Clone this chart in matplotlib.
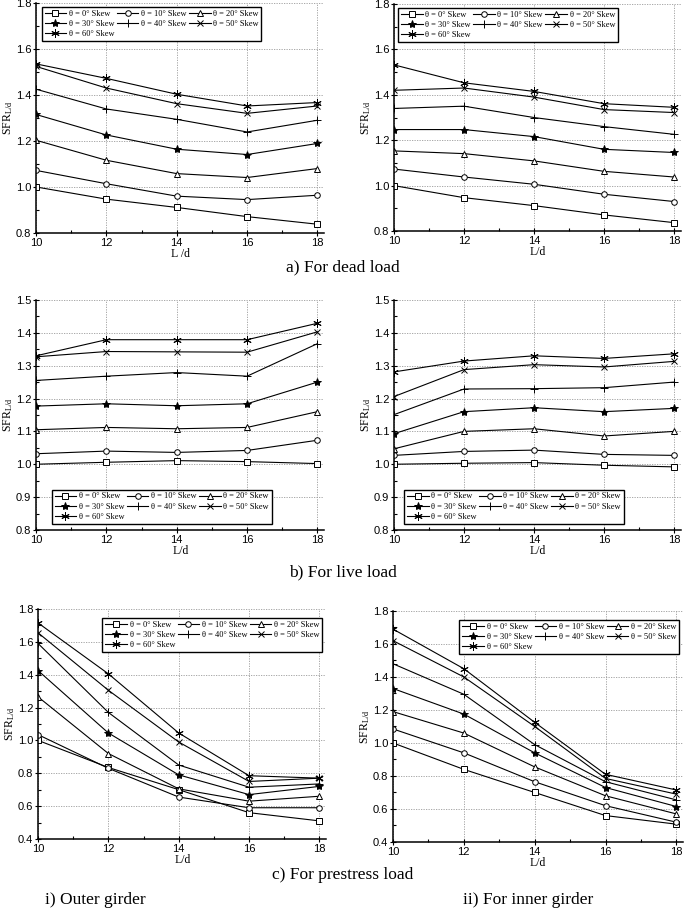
import matplotlib
matplotlib.use('Agg')
import matplotlib.pyplot as plt
from matplotlib.ticker import MultipleLocator, AutoMinorLocator

plt.rcParams['font.family'] = ['Liberation Sans', 'DejaVu Sans']
plt.rcParams['mathtext.fontset'] = 'custom'
plt.rcParams['mathtext.rm'] = 'Liberation Serif'
plt.rcParams['mathtext.it'] = 'Liberation Serif:italic'

Ld = [10, 12, 14, 16, 18]
etiquetas = ['θ = 0° Skew', 'θ = 10° Skew', 'θ = 20° Skew', 'θ = 30° Skew',
             'θ = 40° Skew', 'θ = 50° Skew', 'θ = 60° Skew']

# SFR por angulo de esviaje (0,10,...,60) para cada L/d
muerta_ext = [[1.000, 0.947, 0.911, 0.871, 0.838],
              [1.072, 1.014, 0.960, 0.945, 0.964],
              [1.203, 1.116, 1.058, 1.041, 1.080],
              [1.315, 1.226, 1.164, 1.141, 1.189],
              [1.425, 1.339, 1.294, 1.239, 1.290],
              [1.524, 1.430, 1.362, 1.320, 1.352],
              [1.535, 1.472, 1.403, 1.352, 1.367]]

muerta_int = [[1.000, 0.947, 0.912, 0.871, 0.837],
              [1.073, 1.038, 1.006, 0.962, 0.930],
              [1.153, 1.141, 1.109, 1.063, 1.038],
              [1.247, 1.247, 1.216, 1.160, 1.146],
              [1.340, 1.350, 1.300, 1.260, 1.226],
              [1.420, 1.430, 1.390, 1.335, 1.322],
              [1.532, 1.453, 1.415, 1.361, 1.345]]

viva_ext = [[1.000, 1.006, 1.011, 1.008, 1.002],
            [1.032, 1.040, 1.036, 1.042, 1.073],
            [1.105, 1.112, 1.108, 1.112, 1.160],
            [1.177, 1.184, 1.178, 1.184, 1.250],
            [1.255, 1.268, 1.279, 1.268, 1.367],
            [1.327, 1.343, 1.342, 1.341, 1.403],
            [1.330, 1.379, 1.379, 1.379, 1.429]]

viva_int = [[1.000, 1.003, 1.005, 0.997, 0.992],
            [1.027, 1.039, 1.043, 1.030, 1.027],
            [1.047, 1.100, 1.108, 1.086, 1.100],
            [1.093, 1.160, 1.172, 1.160, 1.170],
            [1.151, 1.229, 1.230, 1.233, 1.250],
            [1.206, 1.288, 1.303, 1.296, 1.313],
            [1.281, 1.314, 1.330, 1.322, 1.336]]

pre_ext = [[1.000, 0.835, 0.700, 0.560, 0.510],
           [1.035, 0.830, 0.655, 0.590, 0.590],
           [1.265, 0.920, 0.705, 0.630, 0.660],
           [1.425, 1.045, 0.790, 0.670, 0.720],
           [1.590, 1.170, 0.850, 0.715, 0.735],
           [1.655, 1.305, 0.990, 0.750, 0.770],
           [1.715, 1.405, 1.045, 0.785, 0.770]]

pre_int = [[1.000, 0.840, 0.700, 0.560, 0.508],
           [1.085, 0.940, 0.765, 0.620, 0.520],
           [1.190, 1.060, 0.855, 0.680, 0.570],
           [1.330, 1.175, 0.940, 0.730, 0.615],
           [1.480, 1.295, 0.990, 0.765, 0.655],
           [1.620, 1.400, 1.100, 0.785, 0.690],
           [1.690, 1.450, 1.125, 0.810, 0.715]]

marcadores = ['s', 'o', '^', '*', '+', 'x', (6, 2, 0)]
tamanos = [4, 4, 4.5, 6, 6, 5, 6]
abiertos = [True, True, True, False, False, False, False]
# orden para que la leyenda se llene por filas (3 columnas)
orden_leyenda = [0, 3, 6, 1, 4, 2, 5]


def panel(pos, datos, ylim, ypaso, xlabel, leg_loc, leg_bbox):
    ax = fig.add_axes(pos)
    lineas = []
    for k in range(7):
        fc = 'white' if abiertos[k] else 'black'
        l, = ax.plot(Ld, datos[k], color='black', lw=0.8, marker=marcadores[k],
                     ms=tamanos[k], mfc=fc, mec='black', mew=0.7, label=etiquetas[k])
        lineas.append(l)
    ax.set_xlim(10, 18.2)
    ax.set_ylim(ylim)
    ax.xaxis.set_major_locator(MultipleLocator(2))
    ax.xaxis.set_minor_locator(AutoMinorLocator(2))
    ax.yaxis.set_major_locator(MultipleLocator(ypaso))
    ax.yaxis.set_minor_locator(AutoMinorLocator(2))
    ax.grid(True, which='major', color='#9a9a9a', ls=(0, (1.5, 1.5)), lw=0.6)
    ax.spines['top'].set_visible(False)
    ax.spines['right'].set_visible(False)
    ax.spines['left'].set_linewidth(1.1)
    ax.spines['bottom'].set_linewidth(1.1)
    ax.tick_params(which='major', direction='inout', length=4, width=0.8, labelsize=8, pad=1.5)
    ax.tick_params(which='minor', direction='in', length=2.5, width=0.8)
    ax.set_xlabel(xlabel, family='Liberation Serif', fontsize=8.5, labelpad=0)
    ax.set_ylabel(r'SFR$_{\mathrm{L/d}}$', family='Liberation Serif', fontsize=8.5, labelpad=0.5)
    hs = [lineas[i] for i in orden_leyenda]
    ls = [etiquetas[i] for i in orden_leyenda]
    leg = ax.legend(hs, ls, loc=leg_loc, bbox_to_anchor=leg_bbox, ncol=3,
                    prop={'family': 'Liberation Serif', 'size': 6},
                    handlelength=2.6, handletextpad=0.3, columnspacing=0.3,
                    labelspacing=0.25, borderpad=0.35, fancybox=False,
                    edgecolor='black', framealpha=1)
    leg.get_frame().set_linewidth(1.0)
    return ax


fig = plt.figure(figsize=(6.85, 9.15), dpi=100)

# a) carga muerta
panel([0.0526, 0.7454, 0.4211, 0.2514], muerta_ext, (0.8, 1.8), 0.2, 'L /d', 'upper left', (0.005, 1.0))
panel([0.5752, 0.7475, 0.4190, 0.2481], muerta_int, (0.8, 1.8), 0.2, 'L/d', 'upper left', (0.0, 1.0))
# b) carga viva
panel([0.0526, 0.4208, 0.4211, 0.2514], viva_ext, (0.8, 1.5), 0.1, 'L/d', 'lower left', (0.04, 0.01))
panel([0.5752, 0.4208, 0.4190, 0.2514], viva_int, (0.8, 1.5), 0.1, 'L/d', 'lower left', (0.02, 0.01))
# c) presfuerzo
panel([0.0555, 0.0831, 0.4211, 0.2514], pre_ext, (0.4, 1.8), 0.2, 'L/d', 'upper right', (1.0, 0.98))
panel([0.5737, 0.0798, 0.4240, 0.2525], pre_int, (0.4, 1.8), 0.2, 'L/d', 'upper right', (1.0, 0.98))

fs = 12.5
fig.text(0.5, 1 - 267 / 915, 'a) For dead load', ha='center', va='center', family='Liberation Serif', fontsize=fs)
fig.text(0.5, 1 - 572 / 915, 'b) For live load', ha='center', va='center', family='Liberation Serif', fontsize=fs)
fig.text(0.5, 1 - 875 / 915, 'c) For prestress load', ha='center', va='center', family='Liberation Serif', fontsize=fs)
fig.text(95 / 685, 1 - 900 / 915, 'i) Outer girder', ha='center', va='center', family='Liberation Serif', fontsize=fs)
fig.text(528 / 685, 1 - 900 / 915, 'ii) For inner girder', ha='center', va='center', family='Liberation Serif', fontsize=fs)

plt.savefig('out.png', dpi=100)
